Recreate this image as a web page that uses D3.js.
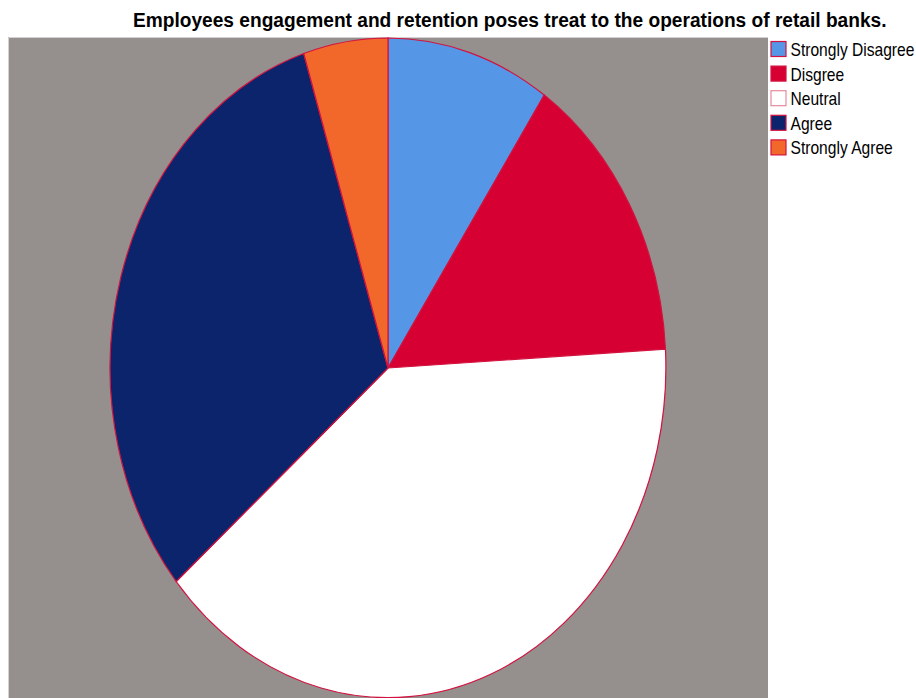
<!DOCTYPE html>
<html><head><meta charset="utf-8">
<script src="https://cdn.jsdelivr.net/npm/d3@7"></script>
<style>body{margin:0;background:#fff}svg{display:block}</style>
</head><body>
<script>
const categories = ["Strongly Disagree","Disgree","Neutral","Agree","Strongly Agree"];
const values = [9.5, 14.6, 39.7, 31.3, 4.9];
const colors = ["#5596E6","#D60032","#FFFFFF","#0B246B","#F2682B"];
const title = "Employees engagement and retention poses treat to the operations of retail banks.";

const W=916,H=698;
const svg=d3.select("body").append("svg").attr("width",W).attr("height",H);
svg.append("rect").attr("x",8).attr("y",37).attr("width",760).attr("height",H-37).attr("fill","#958F8E");
svg.append("path").attr("d","M8.5,"+H+"V37.5H768").attr("fill","none").attr("stroke","#D3D1D1").attr("stroke-width",1);

const tg=svg.append("g");
const tt=tg.append("text").attr("x",0).attr("y",0)
  .attr("font-family","Liberation Sans, Arial, sans-serif").attr("font-weight","bold").attr("font-size",21)
  .attr("fill","#000").text(title);
const tw=tt.node().getComputedTextLength();
tg.attr("transform",`translate(133,26.5) scale(${754/tw},1)`);

const cx=388, cy=368, rx=278, ry=330;
const pie=d3.pie().sort(null).value(d=>d)(values);
const arc=d3.arc().innerRadius(0).outerRadius(1);
const g=svg.append("g").attr("transform",`translate(${cx},${cy}) scale(${rx},${ry})`);
g.selectAll("path").data(pie).join("path").attr("d",arc)
  .attr("fill",(d,i)=>colors[i]).attr("stroke","#D3123F").attr("stroke-width",1.2)
  .attr("vector-effect","non-scaling-stroke");

const lg=svg.append("g");
let sx=null;
categories.forEach((c,i)=>{
  const y=41.5+i*24.6;
  lg.append("rect").attr("x",771).attr("y",y).attr("width",15).attr("height",15)
    .attr("fill",colors[i]).attr("stroke",i===2?"#E58A9E":"#D3123F").attr("stroke-width",1.2);
  const t=lg.append("g");
  const te=t.append("text").attr("x",0).attr("y",0).attr("font-family","Liberation Sans, Arial, sans-serif")
    .attr("font-size",18).attr("fill","#000").text(c);
  if(sx===null) sx=124/te.node().getComputedTextLength();
  t.attr("transform",`translate(790.5,${y+14.5}) scale(${sx},1)`);
});
</script>
</body></html>
